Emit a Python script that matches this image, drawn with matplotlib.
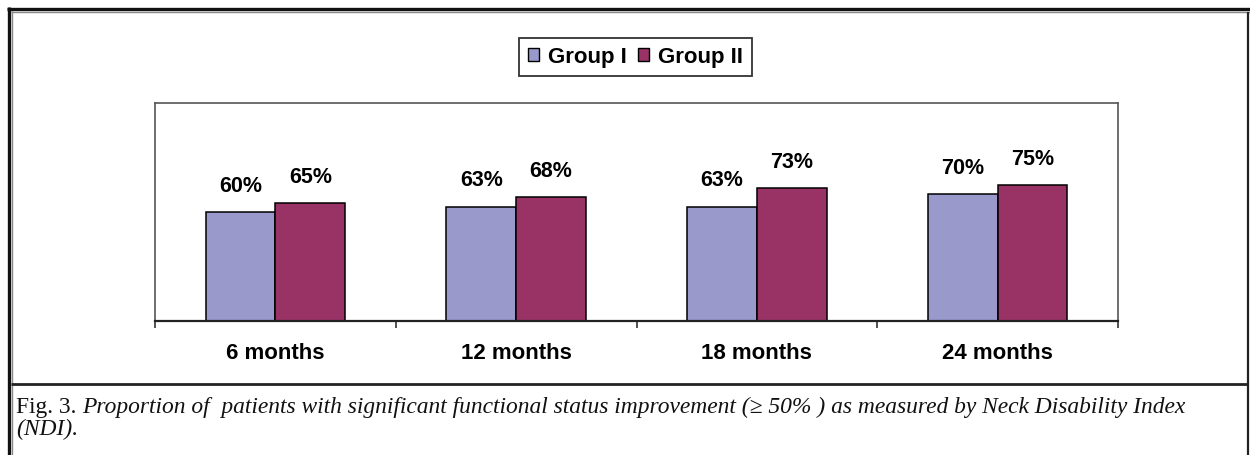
import matplotlib
matplotlib.use("Agg")
import matplotlib.pyplot as plt
from matplotlib.patches import Patch
from matplotlib.lines import Line2D
import numpy as np

# data
categories = ["6 months", "12 months", "18 months", "24 months"]
group1 = [60, 63, 63, 70]
group2 = [65, 68, 73, 75]
series_names = ["Group I", "Group II"]

c1 = "#9999CC"
c2 = "#993366"

W, H = 1250, 455
fig = plt.figure(figsize=(W / 100, H / 100), dpi=100)
fig.patch.set_facecolor("white")

def fx(px):
    return px / W

def fy(py):
    return 1 - py / H

# plot area
ax = fig.add_axes([fx(155), fy(321), fx(1118) - fx(155), fy(103) - fy(321)])
x = np.arange(len(categories))
bw = 0.29
b1 = ax.bar(x - bw / 2, group1, bw, color=c1, edgecolor="black", linewidth=1.1)
b2 = ax.bar(x + bw / 2, group2, bw, color=c2, edgecolor="black", linewidth=1.1)

for bars, vals in [(b1, group1), (b2, group2)]:
    for b, v in zip(bars, vals):
        ax.annotate(f"{v}%", (b.get_x() + b.get_width() / 2, v),
                    xytext=(0, 14.5), textcoords="offset points",
                    ha="center", va="baseline", fontsize=15.5,
                    fontweight="bold", family="Liberation Sans")

ax.set_xlim(-0.5, len(categories) - 0.5)
ax.set_ylim(0, 120)
ax.set_yticks([])
ax.set_xticks(x)
ax.set_xticklabels(categories, fontsize=16, fontweight="bold", family="Liberation Sans")
ax.tick_params(axis="x", which="major", length=0, pad=15.5)
ax.set_xticks(np.arange(-0.5, len(categories), 1.0), minor=True)
ax.tick_params(axis="x", which="minor", length=5, width=1.2, direction="out", color="#333333")

for s in ["left", "right", "top"]:
    ax.spines[s].set_color("#555555")
    ax.spines[s].set_linewidth(1.2)
ax.spines["bottom"].set_color("#222222")
ax.spines["bottom"].set_linewidth(1.6)

# legend
handles = [Patch(facecolor=c1, edgecolor="black", linewidth=1.0),
           Patch(facecolor=c2, edgecolor="black", linewidth=1.0)]
leg = fig.legend(handles, series_names, loc="center", ncol=2,
                 bbox_to_anchor=(fx(635.5), fy(57)),
                 prop={"family": "Liberation Sans", "weight": "bold", "size": 16},
                 frameon=True, fancybox=False, edgecolor="black",
                 handlelength=0.5, handleheight=0.5, handletextpad=0.4,
                 columnspacing=0.5, borderpad=0.4)
leg.get_frame().set_linewidth(1.3)

# frame lines
def hline(y, x0, x1, lw, color):
    fig.add_artist(Line2D([fx(x0), fx(x1)], [fy(y), fy(y)], lw=lw, color=color,
                          transform=fig.transFigure, solid_capstyle="butt"))

def vline(xp, y0, y1, lw, color):
    fig.add_artist(Line2D([fx(xp), fx(xp)], [fy(y0), fy(y1)], lw=lw, color=color,
                          transform=fig.transFigure, solid_capstyle="butt"))

hline(8.5, 7, 1250, 2.4, "#111111")
vline(8.5, 7, 455, 2.4, "#111111")
hline(12, 11, 1250, 1.0, "#888888")
vline(12, 11, 455, 1.0, "#888888")
vline(1248, 12, 455, 1.6, "#222222")
hline(384, 11, 1248, 2.0, "#222222")

# caption
cap_font = "Liberation Serif"
cap_size = 16.9
t1 = fig.text(fx(16), fy(413), "Fig. 3. ", fontsize=cap_size, family=cap_font,
              va="baseline", color="#111111")
fig.canvas.draw()
bb = t1.get_window_extent(renderer=fig.canvas.get_renderer())
fig.text(bb.x1 / W, fy(413),
         "Proportion of  patients with significant functional status improvement (\u2265 50% ) as measured by Neck Disability Index",
         fontsize=cap_size, family=cap_font, style="italic", va="baseline", color="#111111")
fig.text(fx(16), fy(435), "(NDI).", fontsize=cap_size, family=cap_font, style="italic",
         va="baseline", color="#111111")

fig.savefig("out.png", dpi=100)
